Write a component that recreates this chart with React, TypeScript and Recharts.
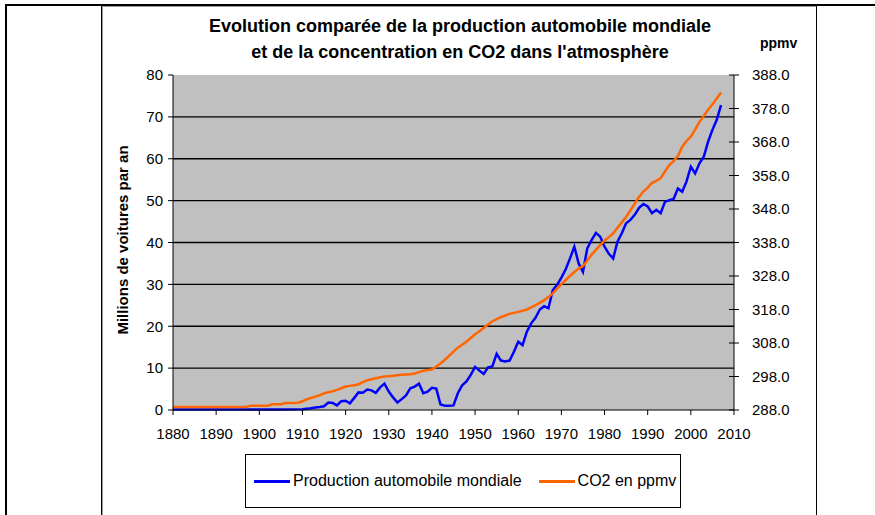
import React from "react";
import { LineChart, Line, XAxis, YAxis, CartesianGrid, Legend } from "recharts";

const carYears = [1880, 1890, 1900, 1905, 1910, 1911, 1912, 1913, 1914, 1915, 1916, 1917, 1918, 1919, 1920, 1921, 1922, 1923, 1924, 1925, 1926, 1927, 1928, 1929, 1930, 1931, 1932, 1933, 1934, 1935, 1936, 1937, 1938, 1939, 1940, 1941, 1942, 1943, 1944, 1945, 1946, 1947, 1948, 1949, 1950, 1951, 1952, 1953, 1954, 1955, 1956, 1957, 1958, 1959, 1960, 1961, 1962, 1963, 1964, 1965, 1966, 1967, 1968, 1969, 1970, 1971, 1972, 1973, 1974, 1975, 1976, 1977, 1978, 1979, 1980, 1981, 1982, 1983, 1984, 1985, 1986, 1987, 1988, 1989, 1990, 1991, 1992, 1993, 1994, 1995, 1996, 1997, 1998, 1999, 2000, 2001, 2002, 2003, 2004, 2005, 2006, 2007];
const carProduction = [0.1, 0.1, 0.1, 0.1, 0.2, 0.3, 0.4, 0.6, 0.7, 0.9, 1.8, 1.7, 1.1, 2.1, 2.2, 1.6, 2.9, 4.2, 4.1, 4.9, 4.7, 4.1, 5.4, 6.3, 4.4, 3.0, 1.8, 2.6, 3.5, 5.2, 5.6, 6.3, 4.0, 4.4, 5.3, 5.1, 1.3, 1.0, 1.0, 1.1, 4.0, 5.9, 6.8, 8.4, 10.3, 9.4, 8.6, 10.2, 10.4, 13.4, 11.8, 11.6, 11.8, 13.9, 16.3, 15.5, 18.7, 20.7, 22.0, 24.0, 24.8, 24.3, 28.6, 29.9, 31.6, 33.6, 36.2, 39.0, 35.0, 33.0, 38.6, 40.6, 42.3, 41.4, 39.0, 37.3, 36.2, 40.2, 42.2, 44.6, 45.4, 46.6, 48.3, 49.2, 48.6, 47.0, 47.8, 47.0, 49.7, 50.1, 50.4, 52.9, 52.1, 54.6, 58.1, 56.5, 58.9, 60.5, 64.1, 66.9, 69.3, 72.8];

const co2Years = [1880, 1885, 1890, 1895, 1897, 1898, 1902, 1903, 1905, 1906, 1909, 1910, 1911, 1912, 1913, 1914, 1915, 1916, 1917, 1918, 1919, 1920, 1921, 1922, 1923, 1924, 1925, 1926, 1927, 1928, 1929, 1930, 1931, 1932, 1933, 1934, 1935, 1936, 1937, 1938, 1939, 1940, 1941, 1942, 1943, 1944, 1945, 1946, 1947, 1948, 1949, 1950, 1951, 1952, 1953, 1954, 1955, 1956, 1957, 1958, 1959, 1960, 1961, 1962, 1963, 1964, 1965, 1966, 1967, 1968, 1969, 1970, 1971, 1972, 1973, 1974, 1975, 1976, 1977, 1978, 1979, 1980, 1981, 1982, 1983, 1984, 1985, 1986, 1987, 1988, 1989, 1990, 1991, 1992, 1993, 1994, 1995, 1996, 1997, 1998, 1999, 2000, 2001, 2002, 2003, 2004, 2005, 2006, 2007];
const co2Ppmv = [288.9, 288.9, 288.9, 288.9, 288.9, 289.3, 289.3, 289.7, 289.7, 290.1, 290.2, 290.6, 291.2, 291.6, 292.0, 292.4, 293.0, 293.3, 293.6, 294.0, 294.5, 295.0, 295.2, 295.4, 295.7, 296.3, 296.9, 297.2, 297.5, 297.8, 298.0, 298.1, 298.2, 298.4, 298.5, 298.6, 298.7, 298.9, 299.3, 299.7, 299.9, 300.1, 301.0, 301.9, 303.0, 304.2, 305.4, 306.6, 307.5, 308.4, 309.5, 310.6, 311.5, 312.5, 313.5, 314.5, 315.1, 315.7, 316.2, 316.7, 317.0, 317.3, 317.6, 318.0, 318.6, 319.3, 320.0, 320.8, 321.7, 322.8, 324.2, 325.6, 326.8, 328.0, 329.2, 330.2, 331.0, 332.6, 334.4, 335.8, 337.2, 338.6, 339.6, 340.7, 342.4, 344.0, 345.6, 347.6, 349.6, 351.6, 353.2, 354.4, 355.8, 356.4, 357.2, 359.2, 361.1, 362.3, 363.8, 366.6, 368.3, 369.6, 371.8, 374.0, 375.8, 377.6, 379.3, 381.0, 382.8];

const yearTicks = [1880, 1890, 1900, 1910, 1920, 1930, 1940, 1950, 1960, 1970, 1980, 1990, 2000, 2010];
const carTicks = [0, 10, 20, 30, 40, 50, 60, 70, 80];
const co2Ticks = [288, 298, 308, 318, 328, 338, 348, 358, 368, 378, 388];
const gridValues = [10, 20, 30, 40, 50, 60, 70];

const titleLine1 = "Evolution comparée de la production automobile mondiale";
const titleLine2 = "et de la concentration en CO2 dans l'atmosphère";
const leftLabel = "Millions de voitures par an";
const rightUnit = "ppmv";
const carName = "Production automobile mondiale";
const co2Name = "CO2 en ppmv";

const carData = carYears.map((year, i) => ({ year, value: carProduction[i] }));
const co2Data = co2Years.map((year, i) => ({ year, value: co2Ppmv[i] }));

const FONT = "Arial, 'Liberation Sans', sans-serif";
const BLUE = "#0000FF";
const ORANGE = "#FF6600";

const RightTick = (props: any) => {
  const { x, y, payload } = props;
  return (
    <g>
      <line x1={x - 5} x2={x + 5} y1={y} y2={y} stroke="#000" strokeWidth={1} />
      <text x={x + 18} y={y} dy="0.35em" textAnchor="start" fontSize={15} fontFamily={FONT} fill="#000">
        {Number(payload.value).toFixed(1)}
      </text>
    </g>
  );
};

const LegendBox = () => (
  <div
    style={{
      width: 436,
      height: 54,
      boxSizing: "border-box",
      border: "1.5px solid #000",
      display: "flex",
      alignItems: "center",
      paddingLeft: 8,
      fontFamily: FONT,
      fontSize: 16,
      color: "#000",
      background: "#fff",
    }}
  >
    <span style={{ display: "inline-block", width: 36, height: 3, background: BLUE, marginRight: 3 }} />
    <span>{carName}</span>
    <span style={{ display: "inline-block", width: 36, height: 3, background: ORANGE, marginLeft: 17, marginRight: 3 }} />
    <span>{co2Name}</span>
  </div>
);

export default function App() {
  return (
    <div style={{ position: "absolute", left: 0, top: 0, width: 875, height: 515, background: "#fff", overflow: "hidden", fontFamily: FONT }}>
      {/* page frame */}
      <div style={{ position: "absolute", left: 5, top: 4, width: 870, height: 2, background: "#000" }} />
      <div style={{ position: "absolute", left: 5, top: 4, width: 2, height: 511, background: "#000" }} />
      <div style={{ position: "absolute", left: 101, top: 5, width: 1, height: 510, background: "#000" }} />
      <div style={{ position: "absolute", left: 102, top: 6, width: 1, height: 509, background: "#999" }} />
      <div style={{ position: "absolute", left: 102, top: 6, width: 714, height: 1, background: "#999" }} />
      <div style={{ position: "absolute", left: 816, top: 5, width: 1, height: 510, background: "#000" }} />

      <div style={{ position: "absolute", left: 102, top: 16, width: 716, textAlign: "center", fontSize: 18, lineHeight: "20px", fontWeight: "bold", color: "#000" }}>
        {titleLine1}
      </div>
      <div style={{ position: "absolute", left: 102, top: 42, width: 716, textAlign: "center", fontSize: 18, lineHeight: "20px", fontWeight: "bold", color: "#000" }}>
        {titleLine2}
      </div>
      <div style={{ position: "absolute", left: 760, top: 35, fontSize: 14, lineHeight: "16px", fontWeight: "bold", color: "#000" }}>
        {rightUnit}
      </div>
      <div
        style={{
          position: "absolute",
          left: 122.5 - 110,
          top: 240 - 10,
          width: 220,
          height: 20,
          lineHeight: "20px",
          textAlign: "center",
          fontSize: 15,
          fontWeight: "bold",
          color: "#000",
          transform: "rotate(-90deg)",
          transformOrigin: "50% 50%",
          whiteSpace: "nowrap",
        }}
      >
        {leftLabel}
      </div>

      <div style={{ position: "absolute", left: 0, top: 0 }}>
        <LineChart width={875} height={515} margin={{ top: 75, right: 81, bottom: 75, left: 113 }}>
          <CartesianGrid yAxisId="left" vertical={false} horizontalValues={gridValues} fill="#C0C0C0" fillOpacity={1} stroke="#000" strokeWidth={1.3} strokeDasharray="" />
          <XAxis
            dataKey="year"
            type="number"
            domain={[1880, 2010]}
            ticks={yearTicks}
            allowDuplicatedCategory={false}
            height={30}
            stroke="#000"
            tickSize={5}
            tickMargin={13}
            tick={{ fontSize: 15, fontFamily: FONT, fill: "#000" }}
            interval={0}
          />
          <YAxis
            yAxisId="left"
            domain={[0, 80]}
            ticks={carTicks}
            width={60}
            stroke="#000"
            tickSize={5}
            tickMargin={5}
            tick={{ fontSize: 15, fontFamily: FONT, fill: "#000" }}
            interval={0}
          />
          <YAxis
            yAxisId="right"
            orientation="right"
            domain={[288, 388]}
            ticks={co2Ticks}
            width={60}
            stroke="#000"
            tickSize={0}
            tickMargin={0}
            tickLine={false}
            tick={<RightTick />}
            interval={0}
          />
          <Legend verticalAlign="middle" align="center" layout="horizontal" content={() => <LegendBox />} wrapperStyle={{ left: 245, top: 454, width: 436, height: 54 }} />
          <Line yAxisId="left" data={carData} dataKey="value" name={carName} stroke={BLUE} strokeWidth={2.5} dot={false} activeDot={false} isAnimationActive={false} type="linear" />
          <Line yAxisId="right" data={co2Data} dataKey="value" name={co2Name} stroke={ORANGE} strokeWidth={2.5} dot={false} activeDot={false} isAnimationActive={false} type="linear" />
        </LineChart>
      </div>
    </div>
  );
}
